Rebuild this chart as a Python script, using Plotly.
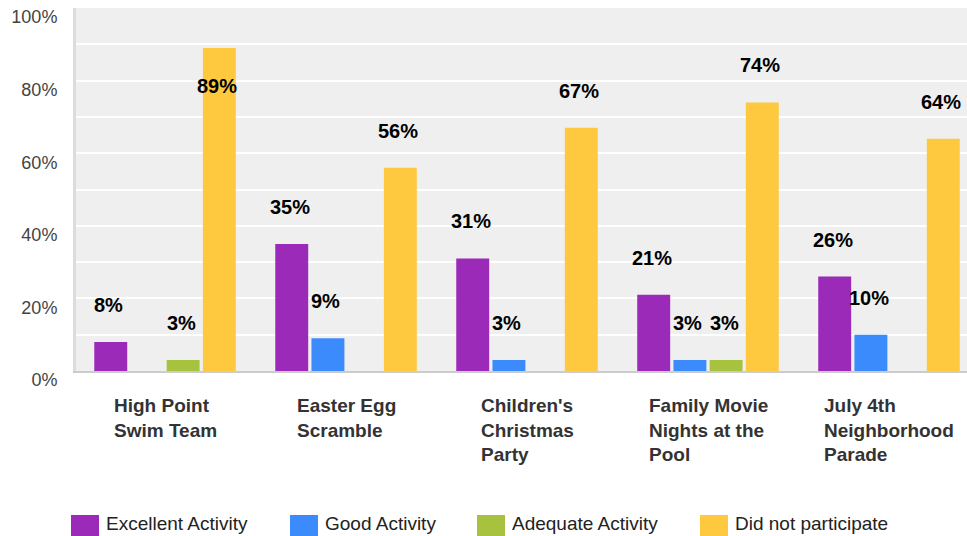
import plotly.graph_objects as go

# ---------------- data ----------------
categories = ["High Point Swim Team", "Easter Egg Scramble", "Children's Christmas Party",
              "Family Movie Nights at the Pool", "July 4th Neighborhood Parade"]
category_labels = ["High Point<br>Swim Team", "Easter Egg<br>Scramble", "Children's<br>Christmas<br>Party",
                   "Family Movie<br>Nights at the<br>Pool", "July 4th<br>Neighborhood<br>Parade"]
series_names = ["Excellent Activity", "Good Activity", "Adequate Activity", "Did not participate"]
excellent = [8, 35, 31, 21, 26]
good = [0, 9, 3, 3, 10]
adequate = [3, 0, 0, 3, 0]
did_not = [89, 56, 67, 74, 64]
y_tick_values = [0, 20, 40, 60, 80, 100]
y_tick_labels = ["0%", "20%", "40%", "60%", "80%", "100%"]

series_values = [excellent, good, adequate, did_not]
colors = ["#9b2ab9", "#3b8bfd", "#a6c23e", "#fec93e"]

FONT = "Liberation Sans, Arial, sans-serif"
W, H = 967, 536
ML, MR, MT, MB = 76, 0, 8, 165
PW, PH = W - ML - MR, H - MT - MB
X_RANGE = [-0.492, 4.431]
BARGAP, GROUPGAP = 0.2, 0.09


def px_x(px):
    return (px - ML) / PW


def px_y(py):
    return (MT + PH - py) / PH


fig = go.Figure()
for name, vals, col in zip(series_names, series_values, colors):
    fig.add_trace(go.Bar(name=name, x=categories, y=vals, marker=dict(color=col, line=dict(width=0)),
                         showlegend=False, hoverinfo="skip"))

annotations = []
# data labels
cat_px = PW / (X_RANGE[1] - X_RANGE[0])
slot_px = cat_px * (1 - BARGAP) / len(series_values)
px_per_unit = PH / 100.0
for i, vals in enumerate(series_values):
    for c, v in zip(categories, vals):
        if v <= 0:
            continue
        above = v * px_per_unit + 37 + 12 <= PH
        annotations.append(dict(
            x=c, y=v, xref="x", yref="y", text=f"<b>{v}%</b>", showarrow=False,
            xshift=(i - 1.5) * slot_px - 2, yshift=37 if above else -38,
            yanchor="middle", xanchor="center",
            font=dict(family=FONT, size=20, color="#000000")))

# category labels
for c, lab in zip(categories, category_labels):
    annotations.append(dict(
        x=c, y=0, xref="x", yref="paper", text=f"<b>{lab}</b>", showarrow=False,
        align="left", xanchor="center", yanchor="top", yshift=-22,
        font=dict(family=FONT, size=19, color="#333333")))

# legend (swatch + text)
legend_swatch_px = [71, 290, 477, 700]
shapes = []
for name, col, sx in zip(series_names, colors, legend_swatch_px):
    shapes.append(dict(type="rect", xref="paper", yref="paper",
                       x0=px_x(sx), x1=px_x(sx + 28), y0=px_y(515), y1=px_y(536),
                       fillcolor=col, line=dict(width=0), layer="above"))
    annotations.append(dict(
        x=px_x(sx + 33), y=px_y(523), xref="paper", yref="paper", text=name, showarrow=False,
        xanchor="left", yanchor="middle",
        font=dict(family=FONT, size=19, color="#222222")))

fig.update_layout(
    width=W, height=H,
    margin=dict(l=ML, r=MR, t=MT, b=MB, pad=0),
    paper_bgcolor="#ffffff", plot_bgcolor="#efefef",
    barmode="group", bargap=BARGAP, bargroupgap=GROUPGAP,
    annotations=annotations, shapes=shapes,
    xaxis=dict(range=X_RANGE, showticklabels=False, showgrid=False, zeroline=False,
               showline=True, linecolor="#cccccc", linewidth=2, ticks="", fixedrange=True),
    yaxis=dict(range=[0, 100], tickvals=y_tick_values, ticktext=y_tick_labels,
               showgrid=True, gridcolor="#ffffff", gridwidth=2, zeroline=False,
               showline=True, linecolor="#dcdcdc", linewidth=3, ticks="",
               ticklabelshift=9, ticklabelstandoff=12,
               tickfont=dict(family=FONT, size=18, color="#444444"),
               minor=dict(dtick=10, showgrid=True, gridcolor="#ffffff", gridwidth=2, tick0=0),
               fixedrange=True),
    showlegend=False,
)

fig.write_html("out.html", include_plotlyjs=True, config={"displayModeBar": False},
               post_script="document.body.style.margin='0';")
